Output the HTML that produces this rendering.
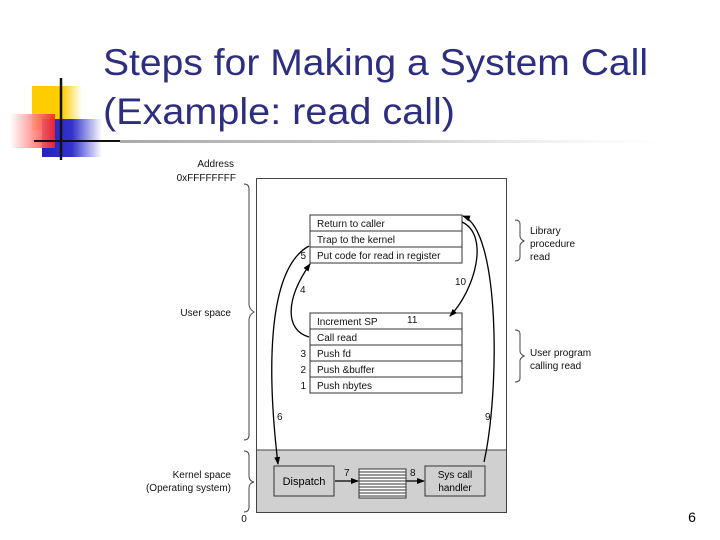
<!DOCTYPE html>
<html><head><meta charset="utf-8"><style>
html,body{margin:0;padding:0;background:#fff;width:720px;height:540px;overflow:hidden}
</style></head><body>
<svg width="720" height="540" viewBox="0 0 720 540" xmlns="http://www.w3.org/2000/svg" font-family="Liberation Sans, sans-serif">
<defs>
<linearGradient id="gy" x1="0" x2="1"><stop offset="0" stop-color="#ffcc00"/><stop offset="0.6" stop-color="#ffcc00"/><stop offset="1" stop-color="#fff"/></linearGradient>
<linearGradient id="gr" x1="1" x2="0"><stop offset="0" stop-color="#ff2020"/><stop offset="1" stop-color="#fff"/></linearGradient>
<linearGradient id="gb" x1="0" x2="1"><stop offset="0" stop-color="#2222bb"/><stop offset="0.5" stop-color="#3333cc"/><stop offset="1" stop-color="#fff"/></linearGradient>
<linearGradient id="gl" x1="0" x2="1"><stop offset="0" stop-color="#aaa"/><stop offset="0.5" stop-color="#ccc"/><stop offset="1" stop-color="#fff" stop-opacity="0"/></linearGradient>
<marker id="ah" markerWidth="8" markerHeight="8" refX="7" refY="4" orient="auto" markerUnits="userSpaceOnUse"><path d="M0,1 L8,4 L0,7 Z" fill="#000"/></marker>
</defs>
<rect x="32" y="86" width="50" height="44" fill="url(#gy)"/>
<rect x="42" y="119" width="60" height="38" fill="url(#gb)"/>
<rect x="10" y="114" width="45" height="34" fill="url(#gr)" opacity="0.9"/>
<line x1="61" y1="78" x2="61" y2="160" stroke="#111" stroke-width="2.5"/>
<line x1="34" y1="141" x2="120" y2="141" stroke="#111" stroke-width="2"/>
<rect x="120" y="140" width="580" height="3" fill="url(#gl)"/>
<text x="103" y="75" font-size="37" fill="#2e2e80" textLength="545" lengthAdjust="spacingAndGlyphs">Steps for Making a System Call</text>
<text x="103" y="124" font-size="37" fill="#2e2e80" textLength="352" lengthAdjust="spacingAndGlyphs">(Example: read call)</text>

<g font-size="10" fill="#111">
<text x="234" y="167" text-anchor="end">Address</text>
<text x="236" y="181" text-anchor="end">0xFFFFFFFF</text>
<text x="231" y="316" text-anchor="end">User space</text>
<text x="231" y="478" text-anchor="end">Kernel space</text>
<text x="231" y="491" text-anchor="end">(Operating system)</text>
<text x="244" y="522" text-anchor="middle">0</text>
<text x="530" y="234">Library</text>
<text x="530" y="247">procedure</text>
<text x="530" y="260">read</text>
<text x="530" y="356">User program</text>
<text x="530" y="369">calling read</text>
</g>
<g fill="none" stroke="#444" stroke-width="1">
<path d="M244,184 q5,0 5,5 v115 q0,5 5,8 q-5,3 -5,8 v115 q0,5 -5,5"/>
<path d="M244,451 q5,0 5,5 v20 q0,5 5,6 q-5,1 -5,6 v19 q0,5 -5,5"/>
<path d="M515,220 q5,0 5,4 v12 q0,3 4,5 q-4,2 -4,5 v11 q0,4 -5,4"/>
<path d="M515,330 q5,0 5,4 v17 q0,3 4,5 q-4,2 -4,5 v17 q0,4 -5,4"/>
</g>
<rect x="256.5" y="178.5" width="250" height="334" fill="#fff" stroke="#444"/>
<rect x="257" y="450" width="249" height="62" fill="#d0d0d0"/>
<line x1="257" y1="450" x2="506" y2="450" stroke="#444"/>
<g fill="#fff" stroke="#333">
<rect x="310" y="215" width="152" height="16"/><rect x="310" y="231" width="152" height="16"/><rect x="310" y="247" width="152" height="16"/>
<rect x="310" y="313" width="152" height="16"/><rect x="310" y="329" width="152" height="16"/><rect x="310" y="345" width="152" height="16"/><rect x="310" y="361" width="152" height="16"/><rect x="310" y="377" width="152" height="16"/>
</g>
<g font-size="10" fill="#111">
<text x="317" y="227">Return to caller</text>
<text x="317" y="243">Trap to the kernel</text>
<text x="317" y="259">Put code for read in register</text>
<text x="317" y="325">Increment SP</text>
<text x="317" y="341">Call read</text>
<text x="317" y="357">Push fd</text>
<text x="317" y="373">Push &amp;buffer</text>
<text x="317" y="389">Push nbytes</text>
<text x="306" y="259" text-anchor="end">5</text>
<text x="306" y="357" text-anchor="end">3</text>
<text x="306" y="373" text-anchor="end">2</text>
<text x="306" y="389" text-anchor="end">1</text>
<text x="300" y="293">4</text>
<text x="455" y="285">10</text>
<text x="407" y="323">11</text>
<text x="277" y="420">6</text>
<text x="485" y="420">9</text>
<text x="344" y="476">7</text>
<text x="410" y="476">8</text>
</g>
<g fill="none" stroke="#000" stroke-width="1.3">
<path d="M309,337 C285,330 285,300 310,264" marker-end="url(#ah)"/>
<path d="M462,222 C490,235 475,290 450,316" marker-end="url(#ah)"/>
<path d="M309,246 C265,270 268,380 278,464" marker-end="url(#ah)"/>
<path d="M484,462 C500,390 500,230 463,216" marker-end="url(#ah)"/>
<path d="M335,481 L358,481" marker-end="url(#ah)"/>
<path d="M406,481 L424,481" marker-end="url(#ah)"/>
</g>
<rect x="274" y="466" width="60" height="30" fill="#d0d0d0" stroke="#333"/>
<rect x="425" y="466" width="60" height="30" fill="#d0d0d0" stroke="#333"/>
<text x="304" y="485" font-size="11" text-anchor="middle">Dispatch</text>
<text x="455" y="478" font-size="10" text-anchor="middle">Sys call</text>
<text x="455" y="491" font-size="10" text-anchor="middle">handler</text>
<rect x="359" y="469" width="47" height="29" fill="#fff" stroke="#333"/>
<g stroke="#333">
<line x1="359" y1="472" x2="406" y2="472"/><line x1="359" y1="475" x2="406" y2="475"/><line x1="359" y1="478" x2="406" y2="478"/><line x1="359" y1="481" x2="406" y2="481"/><line x1="359" y1="484" x2="406" y2="484"/><line x1="359" y1="487" x2="406" y2="487"/><line x1="359" y1="490" x2="406" y2="490"/><line x1="359" y1="493" x2="406" y2="493"/><line x1="359" y1="496" x2="406" y2="496"/>
</g>
<text x="692" y="522" font-size="14" text-anchor="middle">6</text>
</svg>
</body></html>
